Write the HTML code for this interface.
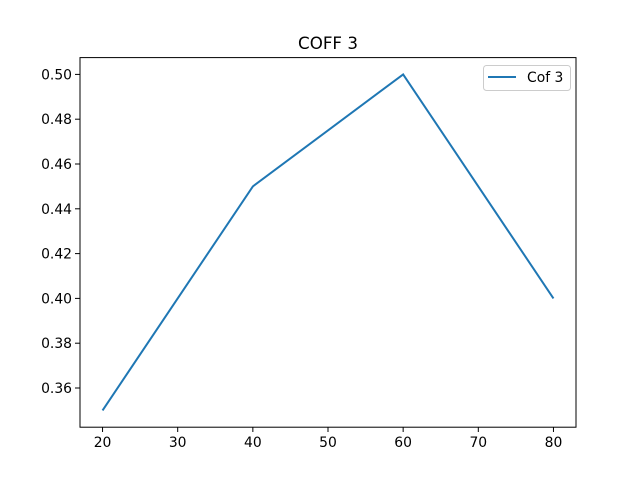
<!DOCTYPE html>
<html><head><meta charset="utf-8"><style>body{margin:0;background:#fff}svg{display:block;font-family:"DejaVu Sans","Liberation Sans",sans-serif}</style></head>
<body>
<svg id="chart" width="640" height="480">
<rect x="0" y="0" width="640" height="480" fill="#fff"/>
<text x="328" y="49" text-anchor="middle" font-size="16.7">COFF 3</text>
<g id="ticks"></g>
<polyline id="line" fill="none" stroke="#1f77b4" stroke-width="2"/>
<rect x="80" y="57.6" width="496" height="369.6" fill="none" stroke="#000" stroke-width="1"/>
<g>
<rect x="483.5" y="65.5" width="87" height="25" fill="#fff" stroke="#ccc" rx="3"/>
<line x1="488" y1="77" x2="516" y2="77" stroke="#1f77b4" stroke-width="2"/>
<text x="527" y="82" font-size="13.9">Cof 3</text>
</g>
</svg>
<script>
const xs=[20,40,60,80];
const ys=[0.35,0.45,0.5,0.4];
const xTicks=[20,30,40,50,60,70,80];
const yTicks=[0.36,0.38,0.40,0.42,0.44,0.46,0.48,0.50];
const X=v=>80+(v-17)*496/66;
const Y=v=>427.2-(v-0.3425)*369.6/0.165;
const ns="http://www.w3.org/2000/svg";
const line=document.getElementById('line');
line.setAttribute('points',xs.map((x,i)=>X(x)+','+Y(ys[i])).join(' '));
const g=document.getElementById('ticks');
function mk(tag,attrs,txt){const e=document.createElementNS(ns,tag);for(const k in attrs)e.setAttribute(k,attrs[k]);if(txt!==undefined)e.textContent=txt;g.appendChild(e);return e;}
xTicks.forEach(t=>{
const x=X(t);
mk('line',{x1:x,x2:x,y1:427.2,y2:432,stroke:'#000','stroke-width':1});
const e=mk('text',{x:x,y:447,'text-anchor':'middle','font-size':13.9},String(t));


});
yTicks.forEach(t=>{
const y=Y(t);
mk('line',{x1:75,x2:80,y1:y,y2:y,stroke:'#000','stroke-width':1});
const e=mk('text',{x:72,y:y+5,'text-anchor':'end','font-size':13.9},t.toFixed(2));


});
</script>
</body></html>
